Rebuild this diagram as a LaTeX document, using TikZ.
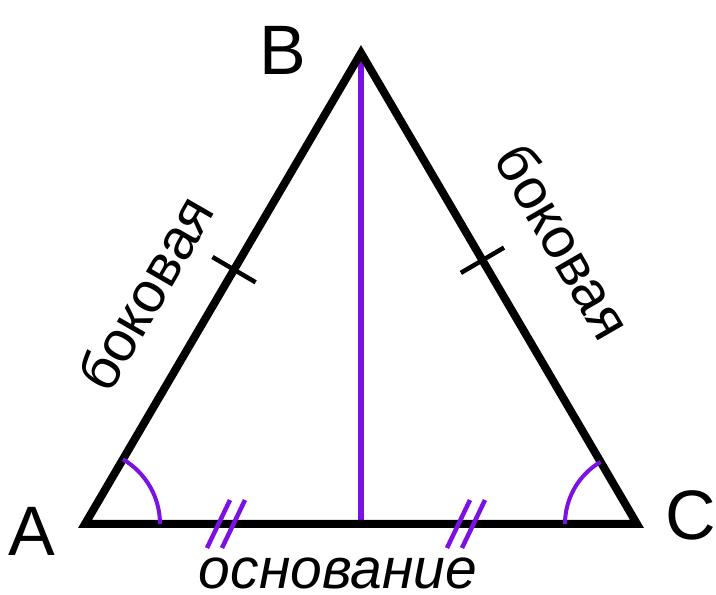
\documentclass[tikz,border=0pt]{standalone}
\usepackage{fontspec}
\setmainfont{Liberation Sans}
\usetikzlibrary{calc}
\definecolor{violeta}{RGB}{123,17,226}

\begin{document}
\begin{tikzpicture}[x=1pt,y=1pt,
    lado/.style={line width=8pt,line join=miter},
    marca/.style={line width=4.5pt},
    vertice/.style={inner sep=0pt,font=\fontsize{70}{70}\selectfont},
    etiqueta/.style={inner sep=0pt,font=\fontsize{57}{57}\selectfont}]
    \useasboundingbox (0,0) rectangle (716,595);
    \coordinate (A) at (85,71);
    \coordinate (B) at (361,542);
    \coordinate (C) at (637,71);
    \coordinate (H) at (361,71);

    % Altura y triangulo.
    \draw[violeta,line width=6pt] (B) -- (H);
    \draw[lado] (A) -- (B) -- (C) -- cycle;

    % Angulos en la base.
    \draw[violeta,line width=4pt] ($(A)+(75,0)$) arc[start angle=0,end angle=59.6,radius=75];
    \draw[violeta,line width=4pt] ($(C)+(-72,0)$) arc[start angle=180,end angle=120.4,radius=72];

    % Marcas de lados iguales.
    \coordinate (T1) at ($(A)!0.54!(B)$);
    \coordinate (T2) at ($(C)!0.56!(B)$);
    \draw[marca] ($(T1)!25pt!90:(B)$) -- ($(T1)!25pt!-90:(B)$);
    \draw[marca] ($(T2)!25pt!90:(B)$) -- ($(T2)!25pt!-90:(B)$);
    \foreach \cx in {218.5,233.5,458.5,473.5} {
        \draw[violeta,marca] (\cx-11.5,47) -- (\cx+11.5,95);
    }

    \node[vertice] (labA) at (32,64) {A};
    \node[vertice] (labB) at (283,545) {B};
    \node[vertice] (labC) at (691,80) {C};
    \node[etiqueta,rotate=60] (bokL) at (145,302) {боковая};
    \node[etiqueta,rotate=-60] (bokR) at (564,354) {боковая};
    \node[etiqueta,anchor=base] (osn) at (338,6) {\itshape основание};
\end{tikzpicture}
\end{document}
